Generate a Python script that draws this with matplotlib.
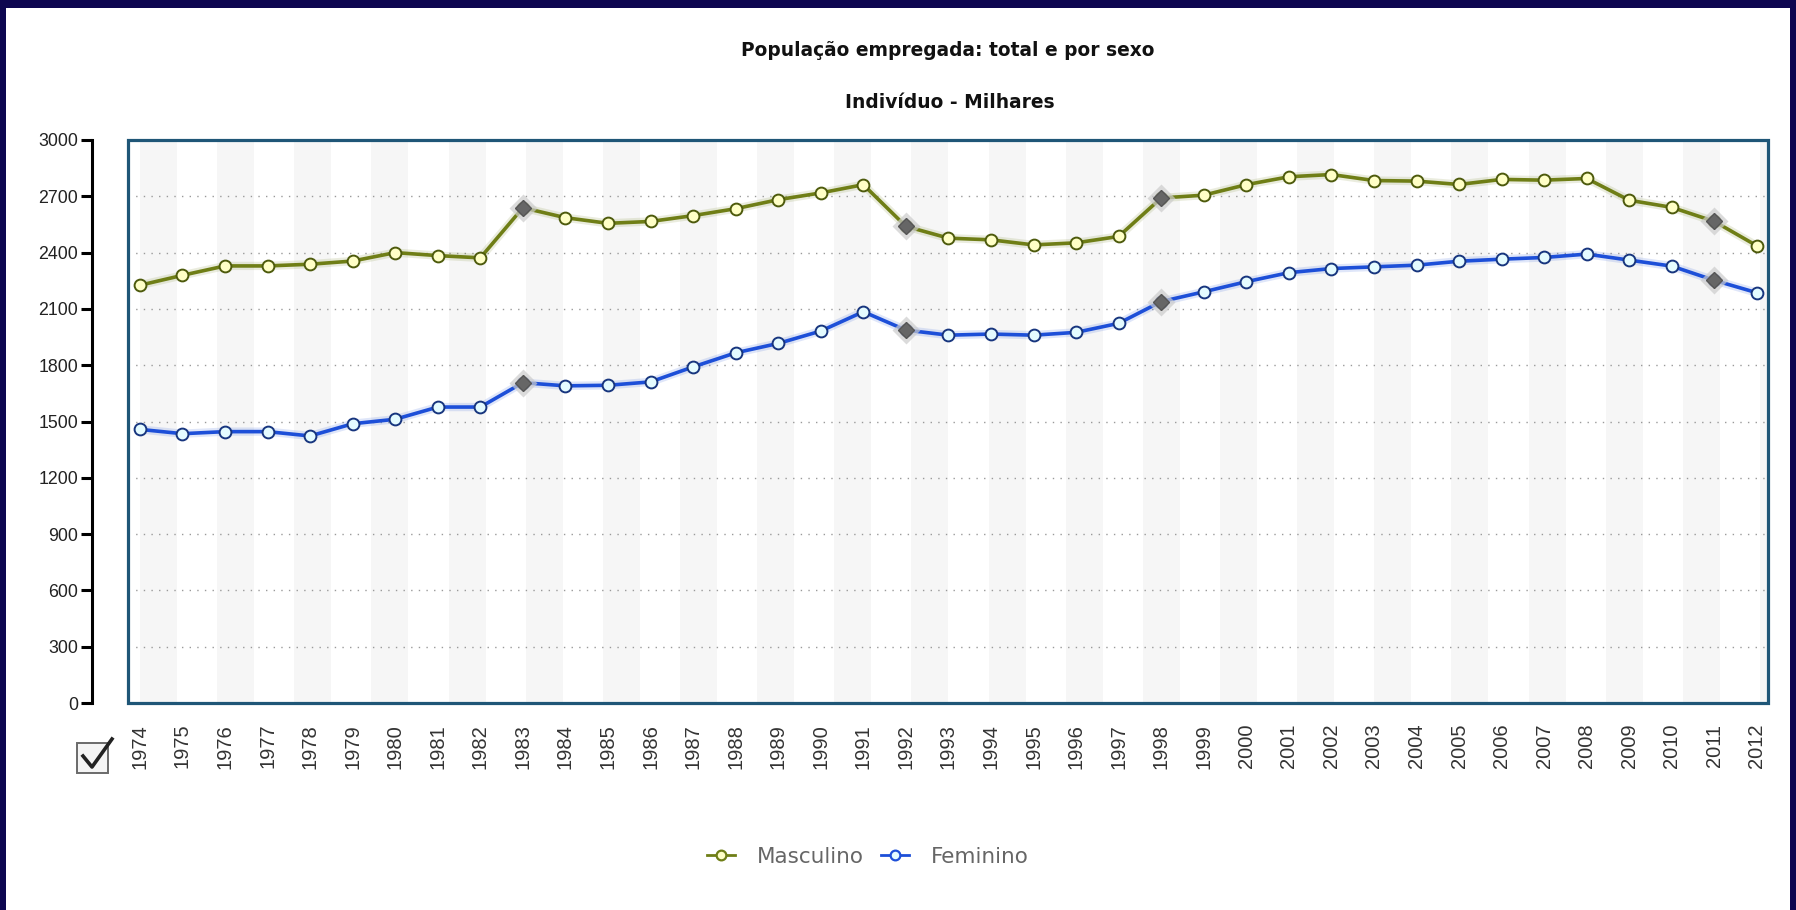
import numpy as np
import matplotlib
matplotlib.use("Agg")
import matplotlib.pyplot as plt
from matplotlib.patches import Rectangle
from matplotlib.lines import Line2D

# valores (milhares de indivíduos)
anos = list(range(1974, 2013))
masculino = [2226, 2279, 2329, 2329, 2338, 2355, 2400, 2384, 2372, 2639,
             2586, 2556, 2566, 2597, 2634, 2682, 2718, 2762, 2540, 2477,
             2468, 2441, 2452, 2486, 2691, 2706, 2762, 2804, 2816, 2784,
             2781, 2763, 2790, 2786, 2795, 2679, 2641, 2566, 2436]
feminino = [1458, 1435, 1446, 1446, 1423, 1488, 1512, 1577, 1577, 1707,
            1690, 1693, 1711, 1791, 1866, 1916, 1982, 2085, 1987, 1960,
            1966, 1960, 1975, 2023, 2139, 2191, 2245, 2293, 2315, 2324,
            2333, 2354, 2365, 2374, 2392, 2360, 2328, 2252, 2186]
anos_destaque = [1983, 1992, 1998, 2011]
y_ticks = list(range(0, 3001, 300))

titulo = "População empregada: total e por sexo"
subtitulo = "Indivíduo - Milhares"
series = [("Masculino", masculino, "#6f7e16", "#ffffc6", "#4d5a0c"),
          ("Feminino", feminino, "#1d4fd8", "#e4fbff", "#17357e")]

W, H = 1796, 910
fig = plt.figure(figsize=(W / 100, H / 100), dpi=100)
fig.patch.set_facecolor("#0d0650")
fig.add_artist(Rectangle((6 / W, 0), (1790 - 6) / W, (H - 8) / H,
                         transform=fig.transFigure, facecolor="white",
                         edgecolor="none", zorder=-5))

ax = fig.add_axes([128 / W, 207 / H, (1768 - 128) / W, (703 - 140) / H])
ax.set_facecolor("white")
x0, x1 = anos[0] - 0.28, anos[-1] + 0.26
ax.set_xlim(x0, x1)
ax.set_ylim(y_ticks[0], y_ticks[-1])

# faixas verticais do fundo
passo = 1.813
k = anos[0]
while k < x1:
    ax.axvspan(k, min(k + 0.87, x1), color="#f6f6f6", lw=0, zorder=0)
    k += passo

for v in y_ticks[1:-1]:
    ax.axhline(v, color="#9a9a9a", lw=1.0, ls=(0, (1, 4.5)), zorder=1)

for nome, vals, cor, face, borda in series:
    ax.plot(anos, vals, color=cor, lw=6, alpha=0.14, zorder=2,
            solid_capstyle="round")
    ax.plot(anos, vals, color=cor, lw=2.6, zorder=3)
    ax.plot(anos, vals, ls="none", marker="o", ms=8.5, mfc=face,
            mec=borda, mew=1.4, zorder=4)
    idx = [anos.index(a) for a in anos_destaque]
    hx = [anos[i] for i in idx]
    hy = [vals[i] for i in idx]
    ax.plot(hx, hy, ls="none", marker="D", ms=14, mfc="#cccccc",
            mec="none", alpha=0.7, zorder=5)
    ax.plot(hx, hy, ls="none", marker="D", ms=8.5, mfc="#666666",
            mec="#555555", zorder=6)

# eixo Y separado, à esquerda da caixa
for s in ["top", "right", "bottom"]:
    ax.spines[s].set_visible(False)
ax.spines["left"].set_position(("outward", 26))
ax.spines["left"].set_color("black")
ax.spines["left"].set_linewidth(2.2)
ax.set_yticks(y_ticks)
ax.set_yticklabels([str(v) for v in y_ticks])
ax.tick_params(axis="y", length=8, width=2.2, pad=2, labelsize=12.8,
               labelcolor="#222222")
ax.set_xticks(anos)
ax.set_xticklabels([str(a) for a in anos], rotation=90)
ax.tick_params(axis="x", length=0, pad=15, labelsize=14.5,
               labelcolor="#333333")
for t in ax.get_xticklabels() + ax.get_yticklabels():
    t.set_fontfamily("Liberation Sans")

ax.add_patch(Rectangle((0, 0), 1, 1, transform=ax.transAxes, fill=False,
                       edgecolor="#1f5677", lw=2.3, clip_on=False, zorder=10))

fig.text(948 / W, 1 - 50 / H, titulo, ha="center", va="center",
         fontsize=13.4, fontweight="bold", color="#111111",
         family="DejaVu Sans")
fig.text(950 / W, 1 - 102 / H, subtitulo, ha="center", va="center",
         fontsize=13.4, fontweight="bold", color="#111111",
         family="DejaVu Sans")

# legenda
handles = [Line2D([], [], color=c, lw=2, marker="o", ms=7, mfc=f, mec=c,
                  mew=1.6)
           for _, _, c, f, b in series]
fig.legend(handles, [s[0] for s in series], loc="center",
           bbox_to_anchor=(868 / W, 53 / H), ncol=2, frameon=False,
           handlelength=1.3, handletextpad=1.0, columnspacing=0.8,
           prop={"family": "DejaVu Sans", "size": 15.5},
           labelcolor="#666666")

# caixa de seleção
fig.add_artist(Rectangle((77 / W, 1 - 773 / H), 31 / W, 30 / H,
                         transform=fig.transFigure, facecolor="#f4f4f4",
                         edgecolor="#6a6a6a", lw=1.4))
fig.add_artist(Line2D([83 / W, 92 / W, 112 / W],
                      [1 - 756 / H, 1 - 767 / H, 1 - 739 / H],
                      transform=fig.transFigure, color="#222222", lw=2.6))

fig.savefig("out.png", dpi=100, facecolor=fig.get_facecolor())
